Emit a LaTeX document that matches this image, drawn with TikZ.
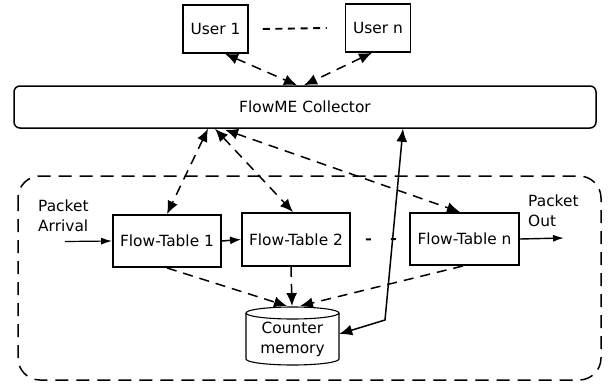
\documentclass[tikz,border=0pt]{standalone}
\usepackage{fontspec}
\setmainfont{DejaVu Sans}
\usetikzlibrary{arrows.meta,calc}
\begin{document}
\begin{tikzpicture}[x=1pt,y=-1pt,
  every node/.style={font=\fontsize{15.4}{20}\selectfont, inner sep=0pt},
  ubox/.style={draw, line width=1.5pt, minimum width=65pt, minimum height=48pt},
  ftbox/.style={draw, line width=1.9pt, minimum width=108pt, minimum height=52pt},
  collbox/.style={draw, line width=1.5pt, rounded corners=6pt, minimum width=582pt, minimum height=42pt},
  dline/.style={line width=1.5pt, dash pattern=on 10pt off 7pt},
  bigtips/.style={{Latex[length=13pt,width=11pt]}-{Latex[length=13pt,width=11pt]}},
  bigtip/.style={-{Latex[length=13pt,width=11pt]}},
  smalltip/.style={line width=1.2pt, -{Latex[length=11pt,width=7pt]}},
  frame/.style={line width=1.5pt, dash pattern=on 13pt off 8pt, rounded corners=22pt}
]
\useasboundingbox (0,0) rectangle (610,388);

% frame
\draw[frame] (18,176) rectangle (601,380);

% users
\node[ubox] (u1) at (215.5,29) {User 1};
\node[ubox] (un) at (378,28) {User n};
\draw[line width=1.9pt, dash pattern=on 7pt off 5.6pt] ([xshift=14pt]u1.east) -- ([xshift=-18pt]un.west);

% collector
\node[collbox] (coll) at (305,107) {FlowME Collector};

% flow tables
\node[ftbox] (ft1) at (167,241) {Flow-Table 1};
\node[ftbox, minimum height=53pt] (ft2) at (296,239.5) {Flow-Table 2};
\node[ftbox, minimum width=109pt] (ftn) at (464.5,239) {Flow-Table n};

% counter memory (cylinder)
\fill[white] (246,313) -- (246,359) arc[start angle=180, end angle=360, x radius=46.5pt, y radius=6pt] -- (339,313) -- cycle;
\draw[line width=1.1pt] (292.5,313) ellipse [x radius=46.5pt, y radius=6pt];
\draw[line width=1.1pt] (246,313) -- (246,359) arc[start angle=180, end angle=360, x radius=46.5pt, y radius=6pt] -- (339,313);
\node[minimum width=93pt, minimum height=58pt, align=center] (mem) at (292.5,339) {Counter\\memory};

% packet labels
\node[align=left, anchor=west] (parr) at (38,216) {Packet\\Arrival};
\node[align=left, anchor=west] (pout) at (528,211) {Packet\\Out};
\coordinate (pin) at (65,241.5);
\coordinate (poutend) at (564,238);

% user arrows
\draw[dline, bigtips] ([xshift=9.5pt]u1.south) -- ([xshift=-8pt]coll.north);
\draw[dline, bigtips] ([xshift=-6pt]un.south) -- ([xshift=-1pt]coll.north);

% collector <-> flow tables
\draw[dline, bigtips] ([xshift=-97pt]coll.south) -- (ft1.north);
\draw[dline, bigtips] ([xshift=-90pt]coll.south) -- ([xshift=-3pt]ft2.north);
\draw[dline, bigtips] ([xshift=-80pt,yshift=-1pt]coll.south) -- ([xshift=-4.5pt]ftn.north);

% flow tables -> counter memory
\coordinate (m1) at (287,306);
\coordinate (m2) at (292,306);
\coordinate (m3) at (300,306);
\draw[dline, bigtip] (ft1.south) -- (m1);
\draw[dline, bigtip] ([xshift=-5pt]ft2.south) -- (m2);
\draw[dline, bigtip] ([xshift=-1.5pt]ftn.south) -- (m3);

% packet path
\draw[smalltip] (pin) -- (ft1.west);
\draw[line width=1.5pt, -{Latex[length=11pt,width=8pt]}] (ft1.east) -- (ft2.west);
\draw[smalltip, line width=1.4pt] (ftn.east) -- (poutend);
\draw[line width=1.9pt, dash pattern=on 5pt off 20pt, dash phase=10pt] (ft2.east) -- (ftn.west);

% solid collector <-> memory
\coordinate (bend) at (385,320);
\draw[line width=1.5pt, bigtips] ([xshift=98pt]coll.south) -- (bend) -- ([yshift=5pt]mem.east);
\end{tikzpicture}
\end{document}
